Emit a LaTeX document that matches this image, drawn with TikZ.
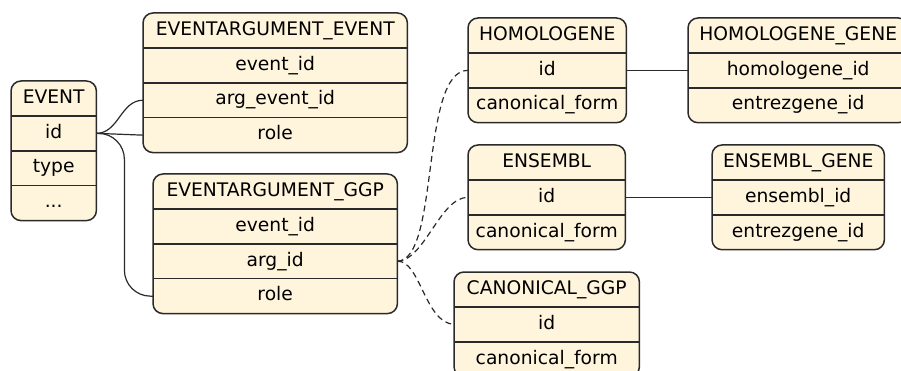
\documentclass[tikz,border=0pt]{standalone}
\usepackage{fontspec}
\setmainfont{DejaVu Sans}
\usetikzlibrary{positioning,backgrounds}

\definecolor{tblfill}{HTML}{FFF5DC}
\definecolor{tbledge}{HTML}{2A2A2A}

\tikzset{
  row/.style={rectangle, inner sep=0pt, minimum height=34.5pt,
    text height=13.5pt, text depth=4pt, font=\fontsize{18.7}{21}\selectfont},
  tblline/.style={draw=tbledge, line width=1.5pt},
  link/.style={draw=tbledge, line width=1.2pt},
  weak/.style={link, dash pattern=on 6pt off 4pt},
}

% table: name, top left corner, width, header, rows
\newcommand{\erdtable}[5]{%
  \node[row, minimum width=#3, anchor=north west] (#1-0) at #2 {#4};
  \foreach \r [count=\i, remember=\i as \prev (initially 0)] in {#5} {
    \node[row, minimum width=#3, below=0pt of #1-\prev] (#1-\i) {\r};
    \draw[tblline] (#1-\i.north west) -- (#1-\i.north east);
    \xdef\lastrow{\i}
  }
  \begin{scope}[on background layer]
    \fill[tblfill, rounded corners=10pt] (#1-0.north west) rectangle (#1-\lastrow.south east);
  \end{scope}
  \draw[tblline, rounded corners=10pt] (#1-0.north west) rectangle (#1-\lastrow.south east);
}

\begin{document}
\begin{tikzpicture}[x=1pt, y=-1pt]
  \useasboundingbox (0,0) rectangle (901,371);

  % Tables
  \erdtable{event}{(11,81)}{85pt}{EVENT}{id, type, .{}.{}.}
  \erdtable{evevent}{(143,13)}{264pt}{EVENTARGUMENT\_EVENT}{event\_id, arg\_event\_id, role}
  \erdtable{evggp}{(153,174)}{244pt}{EVENTARGUMENT\_GGP}{event\_id, arg\_id, role}
  \erdtable{homologene}{(468,18)}{158pt}{HOMOLOGENE}{id, canonical\_form}
  \erdtable{homogene}{(688,18)}{220pt}{HOMOLOGENE\_GENE}{homologene\_id, entrezgene\_id}
  \erdtable{ensembl}{(468,145)}{157pt}{ENSEMBL}{id, canonical\_form}
  \erdtable{ensgene}{(712,145)}{172pt}{ENSEMBL\_GENE}{ensembl\_id, entrezgene\_id}
  \erdtable{canonical}{(454,272)}{185pt}{CANONICAL\_GGP}{id, canonical\_form}

  % Event references
  \draw[link] (event-1.east) to[out=0, in=180] (evevent-2.west);
  \draw[link] (event-1.east) -- (evevent-3.west);
  \draw[link, rounded corners=26pt] (event-1.east) -- ++(28,0) |- (evggp-3.west);

  % GGP argument (dashed)
  \draw[weak] (evggp-2.east) .. controls (440,260) and (420,70) .. (homologene-1.west);
  \draw[weak] (evggp-2.east) .. controls (425,260) and (440,197) .. (ensembl-1.west);
  \draw[weak] (evggp-2.east) .. controls (420,260) and (425,323) .. (canonical-1.west);

  % Gene mappings
  \draw[link] (homologene-1.east) -- (homogene-1.west);
  \draw[link] (ensembl-1.east) -- (ensgene-1.west);

\end{tikzpicture}
\end{document}
